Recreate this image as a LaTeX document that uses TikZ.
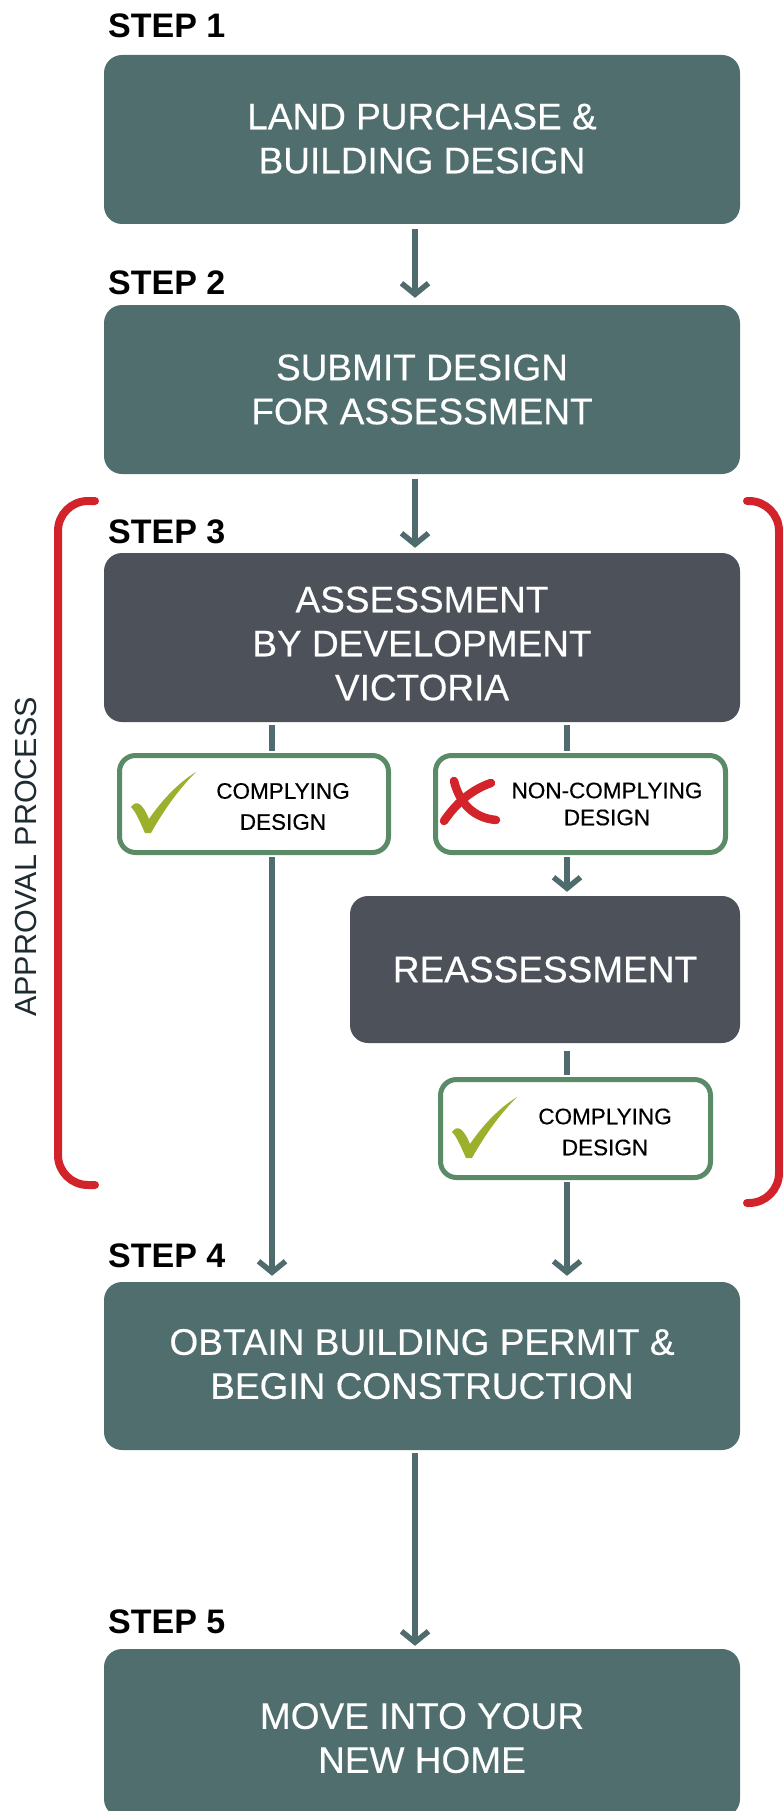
\documentclass[tikz,border=0pt]{standalone}
\usepackage{fontspec}
\setmainfont{Liberation Sans}
\newfontfamily\medfont{Liberation Sans}[FakeBold=0.35]
\usetikzlibrary{arrows.meta}
\definecolor{boxteal}{HTML}{506E6E}
\definecolor{boxdark}{HTML}{4D525A}
\definecolor{linteal}{HTML}{4F6B6D}
\definecolor{grnbord}{HTML}{5A8A66}
\definecolor{chkgreen}{HTML}{9DB02B}
\definecolor{xred}{HTML}{D3242C}
\definecolor{brred}{HTML}{D2232A}
\definecolor{sidetxt}{HTML}{1E2B31}
\newcommand{\checkglyph}{%
  \fill[chkgreen] (0,35) .. controls (5,28) and (11,30) .. (18,47)
    .. controls (31,28) and (47,11) .. (65,0)
    .. controls (49,16) and (34,36) .. (20,61) -- (14,61)
    .. controls (9,50) and (5,40) .. cycle;}
\newcommand{\lowered}[2]{\raisebox{-#1}[\height][\depth]{\begin{tabular}{@{}c@{}}#2\end{tabular}}}
\begin{document}
\begin{tikzpicture}[x=1pt,y=-1pt,
  bigbox/.style={fill=boxteal, rounded corners=18pt, minimum width=636pt, minimum height=169pt,
    text=white, font=\medfont\fontsize{37}{44}\selectfont, align=center, inner sep=0pt},
  darkbox/.style={fill=boxdark, rounded corners=18pt, text=white,
    font=\medfont\fontsize{37}{44}\selectfont, align=center, inner sep=0pt},
  okbox/.style={draw=grnbord, line width=5pt, fill=white, rounded corners=16pt, inner sep=0pt},
  oktext/.style={font=\medfont\fontsize{22.5}{31}\selectfont, align=center, text=black, inner sep=0pt},
  steplbl/.style={font=\fontsize{34}{40}\selectfont\bfseries, anchor=base west, inner sep=0pt, text=black},
  conn/.style={draw=linteal, line width=5.5pt},
  arr/.style={conn, -{Straight Barb[length=11pt,width=27pt]}},
  bracket/.style={draw=brred, line width=8pt, line cap=round, rounded corners=30pt}]
\useasboundingbox (0,0) rectangle (783,1811);

% boxes
\node[bigbox] (b1) at (422,139.5) {\lowered{3pt}{LAND PURCHASE \&\\BUILDING DESIGN}};
\node[bigbox] (b2) at (422,389.5) {SUBMIT DESIGN\\FOR ASSESSMENT};
\node[darkbox, minimum width=636pt, minimum height=169pt] (b3) at (422,637.5) {\lowered{10pt}{ASSESSMENT\\BY DEVELOPMENT\\VICTORIA}};
\node[okbox, minimum width=269pt, minimum height=97pt] (c1) at (254,804) {};
\node[okbox, minimum width=290pt, minimum height=97pt] (n1) at (580.5,804) {};
\node[darkbox, minimum width=390pt, minimum height=147pt] (r1) at (545,969.5) {REASSESSMENT};
\node[okbox, minimum width=270pt, minimum height=98pt] (c2) at (575.5,1128.5) {};
\node[bigbox, minimum height=168pt] (b4) at (422,1366) {\lowered{2pt}{OBTAIN BUILDING PERMIT \&\\BEGIN CONSTRUCTION}};
\node[bigbox, minimum height=168pt] (b5) at (422,1733) {\lowered{9pt}{MOVE INTO YOUR\\NEW HOME}};

% texts in the small boxes
\node[oktext] (t1) at (283,806.5) {COMPLYING\\DESIGN};
\node[oktext, font=\medfont\fontsize{22.5}{27}\selectfont] (t2) at (607,804) {NON-COMPLYING\\DESIGN};
\node[oktext] (t3) at (605,1132) {COMPLYING\\DESIGN};

% step labels
\node[steplbl] (s1) at (108,38) {STEP 1};
\node[steplbl] (s2) at (108,294) {STEP 2};
\node[steplbl] (s3) at (108,543) {STEP 3};
\node[steplbl] (s4) at (108,1267) {STEP 4};
\node[steplbl] (s5) at (108,1633) {STEP 5};

% approval process
\node[rotate=90, font=\fontsize{30.5}{36}\selectfont, text=sidetxt, inner sep=0pt] (ap) at (26,857) {APPROVAL PROCESS};
\draw[bracket] (95,501) -- (58,501) -- (58,1185) -- (95,1185);
\draw[bracket] (747,501) -- (779,501) -- (779,1203) -- (747,1203);

% marks
\begin{scope}[shift={(131,772)}]\checkglyph\end{scope}
\begin{scope}[shift={(452,1097)}]\checkglyph\end{scope}
\draw[xred, line width=8.5pt, line cap=round] (454,781) .. controls (460,805) and (475,818) .. (496,820);
\draw[xred, line width=8.5pt, line cap=round] (491,783) .. controls (470,790) and (455,805) .. (444,821);

% connectors
\coordinate (M) at (415,0);
\coordinate (L) at (272,0);
\coordinate (R) at (567,0);
\draw[arr, shorten <=5pt, shorten >=7pt] (M |- b1.south) -- (M |- b2.north);
\draw[arr, shorten <=5pt, shorten >=5pt] (M |- b2.south) -- (M |- b3.north);
\draw[conn, shorten <=3pt, shorten >=2pt] (L |- b3.south) -- (L |- c1.north);
\draw[arr, shorten <=2pt, shorten >=6pt] (L |- c1.south) -- (L |- b4.north);
\draw[conn, shorten <=3pt, shorten >=2pt] (R |- b3.south) -- (R |- n1.north);
\draw[arr, shorten <=2pt, shorten >=4pt] (R |- n1.south) -- (R |- r1.north);
\draw[conn, shorten <=8pt, shorten >=2pt] (R |- r1.south) -- (R |- c2.north);
\draw[arr, shorten <=2pt, shorten >=6pt] (R |- c2.south) -- (R |- b4.north);
\draw[arr, shorten <=3pt, shorten >=3pt] (M |- b4.south) -- (M |- b5.north);
\end{tikzpicture}
\end{document}
